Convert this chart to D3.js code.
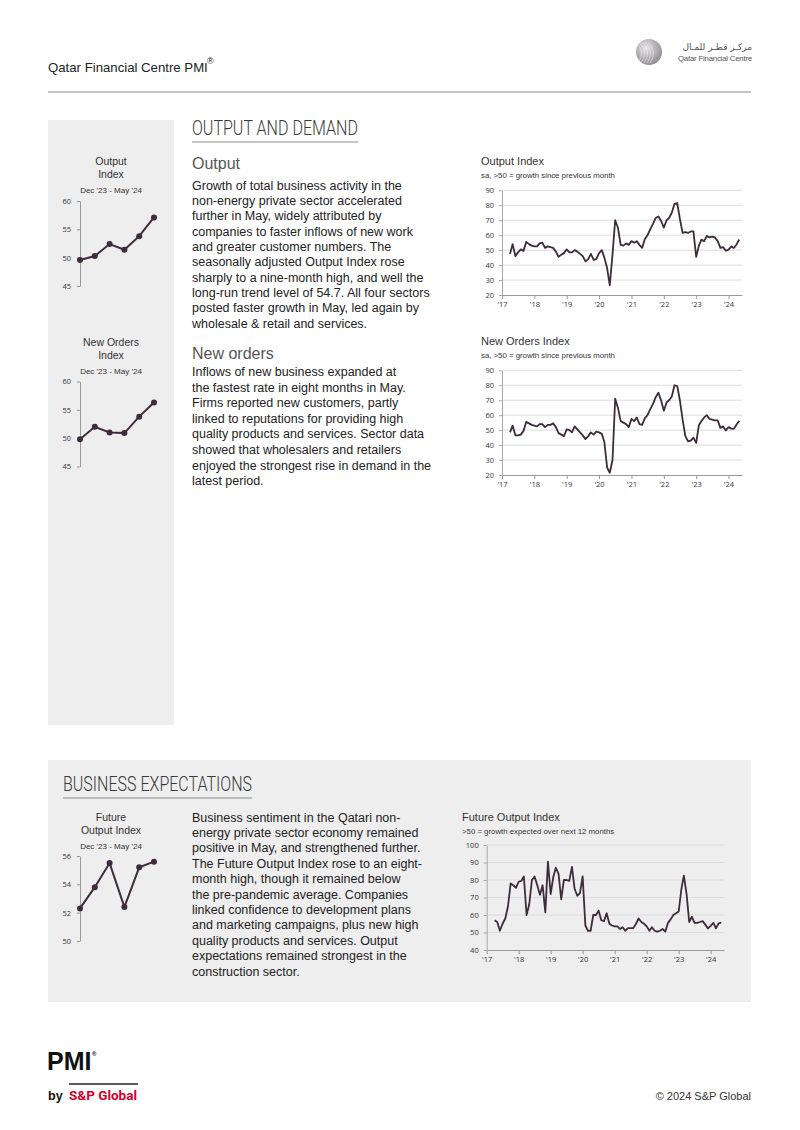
<!DOCTYPE html>
<html>
<head>
<meta charset="utf-8">
<script src="https://cdn.jsdelivr.net/npm/d3@7"></script>
<style>
  body { margin: 0; background: #fff; }
  svg { display: block; font-family: "Liberation Sans", Arial, sans-serif; }
  .tick text { font-family: "Open Sans", "Liberation Sans", sans-serif; fill: #333; }
</style>
</head>
<body>
<script>
// monthly series, Apr 2017 - May 2024
var seriesStart = new Date(2017, 3, 1);

var outputIndex = [
  47.5, 54, 46, 48.5, 50.5, 49.5, 55.5, 54, 53,                 // 2017
  52.5, 52.5, 54.5, 55, 51.5, 52.5, 52, 51.5, 49, 45.5, 47, 48,  // 2018
  50.5, 48.5, 48.5, 50, 49, 47.5, 46, 42.5, 44, 47.5, 43.5, 44,  // 2019
  48, 50, 45, 38, 26.5, 47, 70, 65, 53.5, 53, 54.5, 53.5,        // 2020
  56, 55, 56, 53.5, 51.5, 57.5, 60, 64, 67.5, 71.5, 72.5, 69.5,  // 2021
  65, 70, 71.5, 75, 81, 81.5, 71, 61.5, 62, 61.5, 62.5, 62.5,    // 2022
  45.5, 53, 57, 56, 59.5, 58.5, 59, 58.5, 56, 51.5, 52, 49.6,    // 2023
  50.3, 52.4, 51.4, 53.8, 57.1                                   // 2024
];

var newOrdersIndex = [
  48.5, 53, 46.5, 46.5, 47, 49.5, 55.5, 54.5, 53.5,
  53, 52.5, 54, 54, 52, 53.5, 53.5, 54.5, 52, 48, 47, 46,
  50.5, 50, 48.5, 52.5, 50.5, 48.5, 46.5, 44, 46, 48.5, 47, 49,
  48.5, 47.5, 42, 25, 21.5, 30, 71, 65, 56, 55, 54, 52,
  57.5, 56, 58.5, 54, 53.5, 58, 60, 64, 67.5, 72, 75, 70,
  63, 68.5, 70, 72.5, 80, 79.5, 70, 57, 46, 42.5, 43, 45,
  41.5, 53.5, 56, 58.5, 60, 57.5, 57, 56.5, 56.5, 51.5, 52.5, 49.8,
  52.0, 51.0, 50.9, 53.8, 56.3
];

var futureOutputIndex = [
  57, 56, 51, 55, 58, 65, 78, 77, 75.5,
  79, 79.5, 82, 60, 66, 80, 82, 77, 71.5, 77, 61.5, 90.5,
  72, 82, 87, 83.5, 69, 80, 80, 79.5, 87.5, 75, 71, 72.5,
  82, 54, 51, 51, 60, 60, 62.5, 57, 56.5, 61, 55, 54,
  53.5, 53.5, 52, 53, 51, 52.5, 52.5, 52.5, 55, 58, 56, 55,
  53.5, 51, 53, 51, 50.5, 51, 52, 50.5, 55.5, 57.5, 60, 61,
  62, 75, 82.5, 72, 56, 59, 55.5, 55.5, 56, 56.5, 54.5, 52.3,
  53.8, 55.5, 52.4, 55.2, 55.6
];

// last six months for the sidebar charts
var recentMonths = ["Dec", "Jan", "Feb", "Mar", "Apr", "May"];
var outputRecent = [49.6, 50.3, 52.4, 51.4, 53.8, 57.1];
var newOrdersRecent = [49.8, 52.0, 51.0, 50.9, 53.8, 56.3];
var futureRecent = [52.3, 53.8, 55.5, 52.4, 55.2, 55.6];

var outputText = [
  "Growth of total business activity in the",
  "non-energy private sector accelerated",
  "further in May, widely attributed by",
  "companies to faster inflows of new work",
  "and greater customer numbers. The",
  "seasonally adjusted Output Index rose",
  "sharply to a nine-month high, and well the",
  "long-run trend level of 54.7. All four sectors",
  "posted faster growth in May, led again by",
  "wholesale & retail and services."
];
var newOrdersText = [
  "Inflows of new business expanded at",
  "the fastest rate in eight months in May.",
  "Firms reported new customers, partly",
  "linked to reputations for providing high",
  "quality products and services. Sector data",
  "showed that wholesalers and retailers",
  "enjoyed the strongest rise in demand in the",
  "latest period."
];
var expectText = [
  "Business sentiment in the Qatari non-",
  "energy private sector economy remained",
  "positive in May, and strengthened further.",
  "The Future Output Index rose to an eight-",
  "month high, though it remained below",
  "the pre-pandemic average. Companies",
  "linked confidence to development plans",
  "and marketing campaigns, plus new high",
  "quality products and services. Output",
  "expectations remained strongest in the",
  "construction sector."
];

var lineColor = "#3e2b3b";
var condensed = "Roboto, 'Liberation Sans', sans-serif";

var svg = d3.select("body").append("svg").attr("width", 800).attr("height", 1130);

// ---- header
svg.append("text").attr("x", 48).attr("y", 72).attr("font-size", 13.2).attr("fill", "#222")
  .text("Qatar Financial Centre PMI");
svg.append("text").attr("x", 207).attr("y", 64).attr("font-size", 9).attr("fill", "#222").text("®");
svg.append("line").attr("x1", 48).attr("x2", 751).attr("y1", 92).attr("y2", 92)
  .attr("stroke", "#8a8a8a").attr("stroke-width", 1);

var grad = svg.append("defs").append("radialGradient").attr("id", "logoGrad")
  .attr("cx", "40%").attr("cy", "35%").attr("r", "70%");
grad.append("stop").attr("offset", "0%").attr("stop-color", "#e6e2e6");
grad.append("stop").attr("offset", "100%").attr("stop-color", "#8f878f");
svg.append("circle").attr("cx", 649).attr("cy", 52).attr("r", 13).attr("fill", "url(#logoGrad)");
for (var k = -2; k <= 2; k++) {
  svg.append("path")
    .attr("d", "M" + (642 + k * 3) + ",42 Q" + (652 + k * 3) + ",52 " + (644 + k * 3) + ",63")
    .attr("fill", "none").attr("stroke", "#f4f2f4").attr("stroke-width", 0.6).attr("opacity", 0.8);
}
svg.append("text").attr("x", 752).attr("y", 50).attr("text-anchor", "end")
  .attr("font-family", "'DejaVu Sans', sans-serif").attr("font-size", 9).attr("fill", "#555")
  .text("مركـز قطـر للمـال");
svg.append("text").attr("x", 752).attr("y", 61).attr("text-anchor", "end")
  .attr("font-size", 7.8).attr("fill", "#555").attr("letter-spacing", -0.2).text("Qatar Financial Centre");

// ---- panels
svg.append("rect").attr("x", 48).attr("y", 120).attr("width", 126).attr("height", 605).attr("fill", "#eeeeee");
svg.append("rect").attr("x", 48).attr("y", 760).attr("width", 703).attr("height", 242).attr("fill", "#eeeeee");

function sectionTitle(x, y, w, label) {
  svg.append("text").attr("x", x).attr("y", y).attr("font-family", condensed).attr("font-weight", 300)
    .attr("font-size", 20.5).attr("fill", "#3a3a3a")
    .attr("textLength", w).attr("lengthAdjust", "spacingAndGlyphs").text(label);
  svg.append("line").attr("x1", x).attr("x2", x + w).attr("y1", y + 7).attr("y2", y + 7)
    .attr("stroke", "#8a8a8a").attr("stroke-width", 1);
}
sectionTitle(192, 135, 166, "OUTPUT AND DEMAND");
sectionTitle(63, 791, 189, "BUSINESS EXPECTATIONS");

function paragraph(x, y, step, lines) {
  svg.append("g").selectAll("text").data(lines).join("text")
    .attr("x", x).attr("y", function(d, i) { return y + i * step; })
    .attr("font-size", 12.5).attr("fill", "#222").text(function(d) { return d; });
}
svg.append("text").attr("x", 192).attr("y", 169).attr("font-size", 16).attr("fill", "#555").text("Output");
paragraph(192, 189.5, 15.35, outputText);
svg.append("text").attr("x", 192).attr("y", 359).attr("font-size", 16).attr("fill", "#555").text("New orders");
paragraph(192, 376, 15.6, newOrdersText);
paragraph(192, 821.5, 15.4, expectText);

// ---- sidebar mini charts
function miniChart(titleLines, top, yTop, yBottom, yDomain, yTicks, values) {
  titleLines.forEach(function(t, i) {
    svg.append("text").attr("x", 111).attr("y", top + i * 13).attr("text-anchor", "middle")
      .attr("font-size", 10.5).attr("fill", "#333").text(t);
  });
  svg.append("text").attr("x", 111).attr("y", top + titleLines.length * 13 + 1.5)
    .attr("text-anchor", "middle").attr("font-size", 8).attr("fill", "#333")
    .text("Dec '23 - May '24");

  var x = d3.scalePoint().domain(recentMonths).range([80, 154]);
  var y = d3.scaleLinear().domain(yDomain).range([yBottom, yTop]);
  var ax = svg.append("g").attr("transform", "translate(80,0)")
    .call(d3.axisLeft(y).tickValues(yTicks).tickFormat(d3.format("d"))
      .tickSize(3).tickPadding(6).tickSizeOuter(0));
  ax.select(".domain").attr("stroke", "#999");
  ax.selectAll(".tick line").attr("stroke", "#999");
  ax.selectAll(".tick text").attr("font-size", 7.5);

  var pts = recentMonths.map(function(m, i) { return [m, values[i]]; });
  svg.append("path").datum(pts)
    .attr("d", d3.line().x(function(d) { return x(d[0]); }).y(function(d) { return y(d[1]); }))
    .attr("fill", "none").attr("stroke", lineColor).attr("stroke-width", 2);
  svg.append("g").selectAll("circle").data(pts).join("circle")
    .attr("cx", function(d) { return x(d[0]); }).attr("cy", function(d) { return y(d[1]); })
    .attr("r", 3).attr("fill", lineColor);
}
miniChart(["Output", "Index"], 165, 201, 286, [45, 60], [45, 50, 55, 60], outputRecent);
miniChart(["New Orders", "Index"], 346, 381.5, 466.5, [45, 60], [45, 50, 55, 60], newOrdersRecent);
miniChart(["Future", "Output Index"], 821, 856, 941, [50, 56], [50, 52, 54, 56], futureRecent);

// ---- long-run charts
var months = d3.timeMonth.range(seriesStart, new Date(2024, 5, 1));

function bigChart(o) {
  svg.append("text").attr("x", o.titleX).attr("y", o.titleY).attr("font-size", 11).attr("fill", "#333").text(o.title);
  svg.append("text").attr("x", o.titleX).attr("y", o.titleY + 12.5).attr("font-size", 7.8).attr("fill", "#333").text(o.sub);

  var x = d3.scaleTime().domain([new Date(2017, 0, 1), new Date(2024, 5, 1)]).range([o.left, o.right]);
  var y = d3.scaleLinear().domain(o.yDomain).range([o.bottom, o.top]);
  var ticks = d3.range(o.yDomain[0], o.yDomain[1] + 1, 10);

  svg.append("g").selectAll("line").data(ticks.slice(1)).join("line")
    .attr("x1", o.left).attr("x2", o.right)
    .attr("y1", function(d) { return y(d); }).attr("y2", function(d) { return y(d); })
    .attr("stroke", "#dcdcdc").attr("stroke-width", 1);

  var ay = svg.append("g").attr("transform", "translate(" + o.left + ",0)")
    .call(d3.axisLeft(y).tickValues(ticks).tickSize(3).tickPadding(5).tickSizeOuter(0));
  ay.select(".domain").attr("stroke", "#aaa");
  ay.selectAll(".tick line").attr("stroke", "#aaa");
  ay.selectAll(".tick text").attr("font-size", 7.5);

  var axb = svg.append("g").attr("transform", "translate(0," + o.bottom + ")")
    .call(d3.axisBottom(x).ticks(d3.timeYear.every(1)).tickFormat(d3.timeFormat("'%y"))
      .tickSize(4).tickPadding(3).tickSizeOuter(0));
  axb.select(".domain").attr("stroke", "#999");
  axb.selectAll(".tick line").attr("stroke", "#999");
  axb.selectAll(".tick text").attr("font-size", 7.5);

  svg.append("path").datum(o.values)
    .attr("d", d3.line().x(function(d, i) { return x(months[i]); }).y(function(d) { return y(d); }))
    .attr("fill", "none").attr("stroke", lineColor).attr("stroke-width", 1.8)
    .attr("stroke-linejoin", "round");
}

bigChart({ title: "Output Index", sub: "sa, >50 = growth since previous month", titleX: 481, titleY: 165,
  left: 502, right: 742, top: 190.3, bottom: 295, yDomain: [20, 90], values: outputIndex });
bigChart({ title: "New Orders Index", sub: "sa, >50 = growth since previous month", titleX: 481, titleY: 345,
  left: 502, right: 742, top: 370.3, bottom: 475, yDomain: [20, 90], values: newOrdersIndex });
bigChart({ title: "Future Output Index", sub: ">50 = growth expected over next 12 months", titleX: 462, titleY: 821,
  left: 486.7, right: 724, top: 845, bottom: 950, yDomain: [40, 100], values: futureOutputIndex });

// ---- footer
svg.append("text").attr("x", 47).attr("y", 1070).attr("font-size", 25).attr("font-weight", "bold")
  .attr("fill", "#111").text("PMI");
svg.append("text").attr("x", 92).attr("y", 1056).attr("font-size", 6).attr("font-weight", "bold")
  .attr("fill", "#111").text("®");
svg.append("line").attr("x1", 69).attr("x2", 138).attr("y1", 1084).attr("y2", 1084)
  .attr("stroke", "#222").attr("stroke-width", 1.5);
svg.append("text").attr("x", 48).attr("y", 1100).attr("font-size", 12.5).attr("font-weight", "bold")
  .attr("fill", "#111").text("by");
svg.append("text").attr("x", 69).attr("y", 1100).attr("font-size", 12.5).attr("font-weight", "bold")
  .attr("fill", "#d6002a").attr("font-family", condensed)
  .attr("textLength", 68).attr("lengthAdjust", "spacingAndGlyphs").text("S&P Global");
svg.append("text").attr("x", 751).attr("y", 1100).attr("text-anchor", "end").attr("font-size", 11)
  .attr("fill", "#333").text("© 2024 S&P Global");
</script>
</body>
</html>
